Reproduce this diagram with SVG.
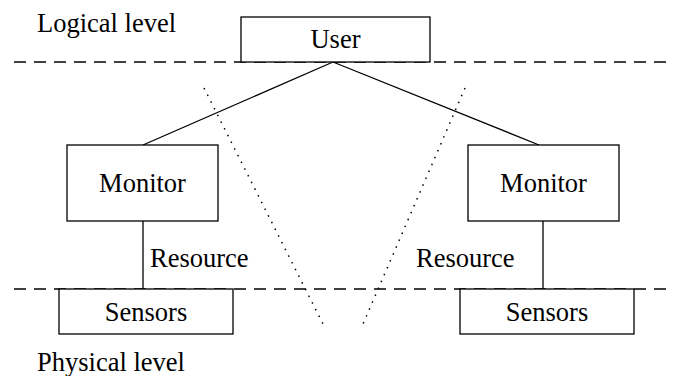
<svg xmlns="http://www.w3.org/2000/svg" width="679" height="376" viewBox="0 0 679 376">
<style>
.box{fill:#fff;stroke:#000;stroke-width:1.3}
.t{font-family:'Liberation Serif','Times New Roman','DejaVu Serif',serif;font-size:26.5px;fill:#000}
.c{text-anchor:middle}
.ln{stroke:#000;stroke-width:1.3;fill:none}
.dash{stroke:#000;stroke-width:1.3;stroke-dasharray:12 8;fill:none}
.dot{stroke:#000;stroke-width:1.5;stroke-dasharray:1.5 6;fill:none}
</style>
<rect width="679" height="376" fill="#fff"/>
<g id="levels">
<line class="dash" x1="14" y1="62" x2="670" y2="62"/>
<line class="dash" x1="14" y1="289" x2="670" y2="289"/>
<text class="t" x="37" y="31.5">Logical level</text>
<text class="t" x="37" y="370.5">Physical level</text>
</g>
<g id="connectors">
<line class="ln" x1="333" y1="62" x2="143" y2="145"/>
<line class="ln" x1="333" y1="62" x2="539" y2="145"/>
<line class="ln" x1="143" y1="221" x2="143" y2="289"/>
<line class="ln" x1="543" y1="221" x2="543" y2="289"/>
<line class="dot" x1="204" y1="88" x2="323" y2="324"/>
<line class="dot" x1="465" y1="88" x2="363" y2="324"/>
<text class="t" x="150" y="266.5">Resource</text>
<text class="t" x="416" y="266.5">Resource</text>
</g>
<g id="user">
<rect class="box" x="241" y="17" width="189" height="45"/>
<text class="t c" x="335.5" y="48">User</text>
</g>
<g id="monitor-left">
<rect class="box" x="67" y="145" width="151" height="76"/>
<text class="t c" x="142.5" y="192">Monitor</text>
</g>
<g id="monitor-right">
<rect class="box" x="468" y="145" width="151" height="76"/>
<text class="t c" x="543.5" y="192">Monitor</text>
</g>
<g id="sensors-left">
<rect class="box" x="59" y="289" width="174" height="45"/>
<text class="t c" x="146" y="321">Sensors</text>
</g>
<g id="sensors-right">
<rect class="box" x="460" y="289" width="174" height="45"/>
<text class="t c" x="547" y="321">Sensors</text>
</g>
</svg>
